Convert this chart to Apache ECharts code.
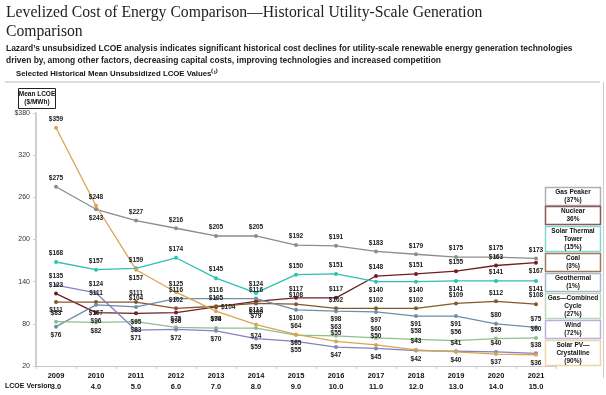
<!DOCTYPE html>
<html><head><meta charset="utf-8">
<script src="https://cdn.jsdelivr.net/npm/echarts@6/dist/echarts.min.js"></script>
<style>html,body{margin:0;padding:0;background:#fff}#c{width:606px;height:395px}</style>
</head><body><div id="c"></div>
<script>
const years = ['2009','2010','2011','2012','2013','2014','2015','2016','2017','2018','2019','2020','2021'];
const versions = ['3.0','4.0','5.0','6.0','7.0','8.0','9.0','10.0','11.0','12.0','13.0','14.0','15.0'];
const yTicks = [20, 80, 140, 200, 260, 320, 380];

const gasPeaker    = [275,243,227,216,205,205,192,191,183,179,175,175,173];
const nuclear      = [123,96,95,96,104,112,117,117,148,151,155,163,167];
const solarThermal = [168,157,159,174,145,124,150,151,140,140,141,141,141];
const coal         = [111,111,111,102,105,109,108,102,102,102,109,112,108];
const geothermal   = [76,107,104,116,116,116,100,98,97,91,91,80,75];
const gasCC        = [83,82,83,75,74,74,64,63,60,58,56,59,60];
const wind         = [135,124,71,72,70,59,55,47,45,42,41,40,38];
const solarPV      = [359,248,157,125,98,79,65,55,50,43,40,37,36];

const legendNames = ['Gas Peaker\n(37%)','Nuclear\n36%','Solar Thermal\nTower\n(15%)','Coal\n(3%)','Geothermal\n(1%)','Gas—Combined\nCycle\n(27%)','Wind\n(72%)','Solar PV—\nCrystalline\n(90%)'];

// styling
const seriesDefs = [
  {name:'Gas Peaker', data:gasPeaker, color:'#8c8c8c', box:'#b0b0b0', pos:'TBTTTTTTTTTTT'},
  {name:'Nuclear', data:nuclear, color:'#6e1f24', box:'#8a5a5a', pos:'TBBBRBTTTTTTB'},
  {name:'Solar Thermal Tower', data:solarThermal, color:'#2fc0b6', box:'#7fd8d2', pos:'TTTTTTTTBBBTB'},
  {name:'Coal', data:coal, color:'#84582e', box:'#9a7a5a', pos:'BTTTTBTTTTTTT'},
  {name:'Geothermal', data:geothermal, color:'#6f8ea8', box:'#a8b8c8', pos:'BBTTTTBBBBBTT'},
  {name:'Gas—Combined Cycle', data:gasCC, color:'#8dbf8d', box:'#bcd8bc', pos:'TBBTTBTTTTTTT'},
  {name:'Wind', data:wind, color:'#8383bd', box:'#b4b4d8', pos:'TTBBBBBBBBTTT'},
  {name:'Solar PV—Crystalline', data:solarPV, color:'#d9a553', box:'#f0d4a8', pos:'TTBTBTBTTTBBB'}
];
const posMap = {T:'top', B:'bottom', R:'right'};

const series = seriesDefs.map(s => ({
  name: s.name, type:'line',
  data: s.data.map((v,i) => ({value:v, label:{position:posMap[s.pos[i]]}})),
  symbol:'circle', symbolSize:4,
  lineStyle:{color:s.color, width:1.3},
  itemStyle:{color:s.color},
  label:{show:true, formatter:p=>'$'+p.value, fontSize:6.5, fontWeight:'bold', color:'#1a1a1a', distance:3, fontFamily:'Liberation Sans'},
  emphasis:{disabled:true}, animation:false
}));

const boxes = [[187,205],[206,224],[226,251],[253,271],[273,291],[293,318],[320,338],[340,365]];
const graphics = [
  {type:'text', left:6, top:3, style:{text:'Levelized Cost of Energy Comparison—Historical Utility-Scale Generation\nComparison', font:'15.7px "Liberation Serif"', fill:'#222', lineHeight:19}},
  {type:'text', left:6, top:43, style:{text:'Lazard’s unsubsidized LCOE analysis indicates significant historical cost declines for utility-scale renewable energy generation technologies\ndriven by, among other factors, decreasing capital costs, improving technologies and increased competition', font:'bold 8.45px "Liberation Sans"', fill:'#222', lineHeight:12}},
  {type:'text', left:16, top:70, style:{text:'Selected Historical Mean Unsubsidized LCOE Values⁽¹⁾', font:'bold 7.8px "Liberation Sans"', fill:'#111'}},
  {type:'line', shape:{x1:5,y1:82,x2:600,y2:82}, style:{stroke:'#bbb', lineWidth:1}},
  {type:'line', shape:{x1:603.5,y1:82,x2:603.5,y2:378}, style:{stroke:'#ccc', lineWidth:1}},
  {type:'rect', shape:{x:18.5,y:88.5,width:37,height:20}, style:{fill:'#fff', stroke:'#222', lineWidth:1}},
  {type:'text', x:37, y:98.5, style:{text:'Mean LCOE\n($/MWh)', font:'bold 6.5px "Liberation Sans"', fill:'#111', align:'center', verticalAlign:'middle', lineHeight:8}},
  {type:'text', left:5, top:383, style:{text:'LCOE Version', font:'bold 7px "Liberation Sans"', fill:'#111'}}
];
boxes.forEach((b,i) => {
  graphics.push({type:'rect', z:10, shape:{x:545.5,y:b[0]+0.5,width:55,height:b[1]-b[0]}, style:{fill:'#fff', stroke:seriesDefs[i].box, lineWidth:1.5}});
  graphics.push({type:'text', z:11, x:573, y:(b[0]+b[1])/2+0.5, style:{text:legendNames[i], font:'bold 6.5px "Liberation Sans"', fill:'#111', align:'center', verticalAlign:'middle', lineHeight:8}});
});

const chart = echarts.init(document.getElementById('c'), null, {renderer:'canvas'});
chart.setOption({
  animation:false,
  grid:{left:36, right:50, top:113, bottom:29, containLabel:false},
  xAxis:{type:'category', data:years, boundaryGap:true,
    axisLine:{lineStyle:{color:'#c8c8c8', width:1}},
    axisTick:{show:true, interval:0, length:3, lineStyle:{color:'#c8c8c8'}},
    axisLabel:{interval:0, margin:4, formatter:(v,i)=>'{y|'+v+'}\n{v|'+versions[i]+'}',
      rich:{y:{fontSize:7.5, fontWeight:'bold', color:'#111', lineHeight:11, fontFamily:'Liberation Sans'},
            v:{fontSize:7.5, fontWeight:'bold', color:'#111', lineHeight:11, fontFamily:'Liberation Sans'}}}
  },
  yAxis:{type:'value', min:yTicks[0], max:yTicks[yTicks.length-1], interval:60,
    splitLine:{show:false},
    axisLine:{show:true, lineStyle:{color:'#cfcfcf', width:2}},
    axisTick:{show:true, length:3, lineStyle:{color:'#cfcfcf'}},
    axisLabel:{fontSize:7, color:'#333', margin:6, fontFamily:'Liberation Sans', formatter:v=> v===380?'$380':String(v)}
  },
  graphic:graphics,
  series:series
});
</script></body></html>
